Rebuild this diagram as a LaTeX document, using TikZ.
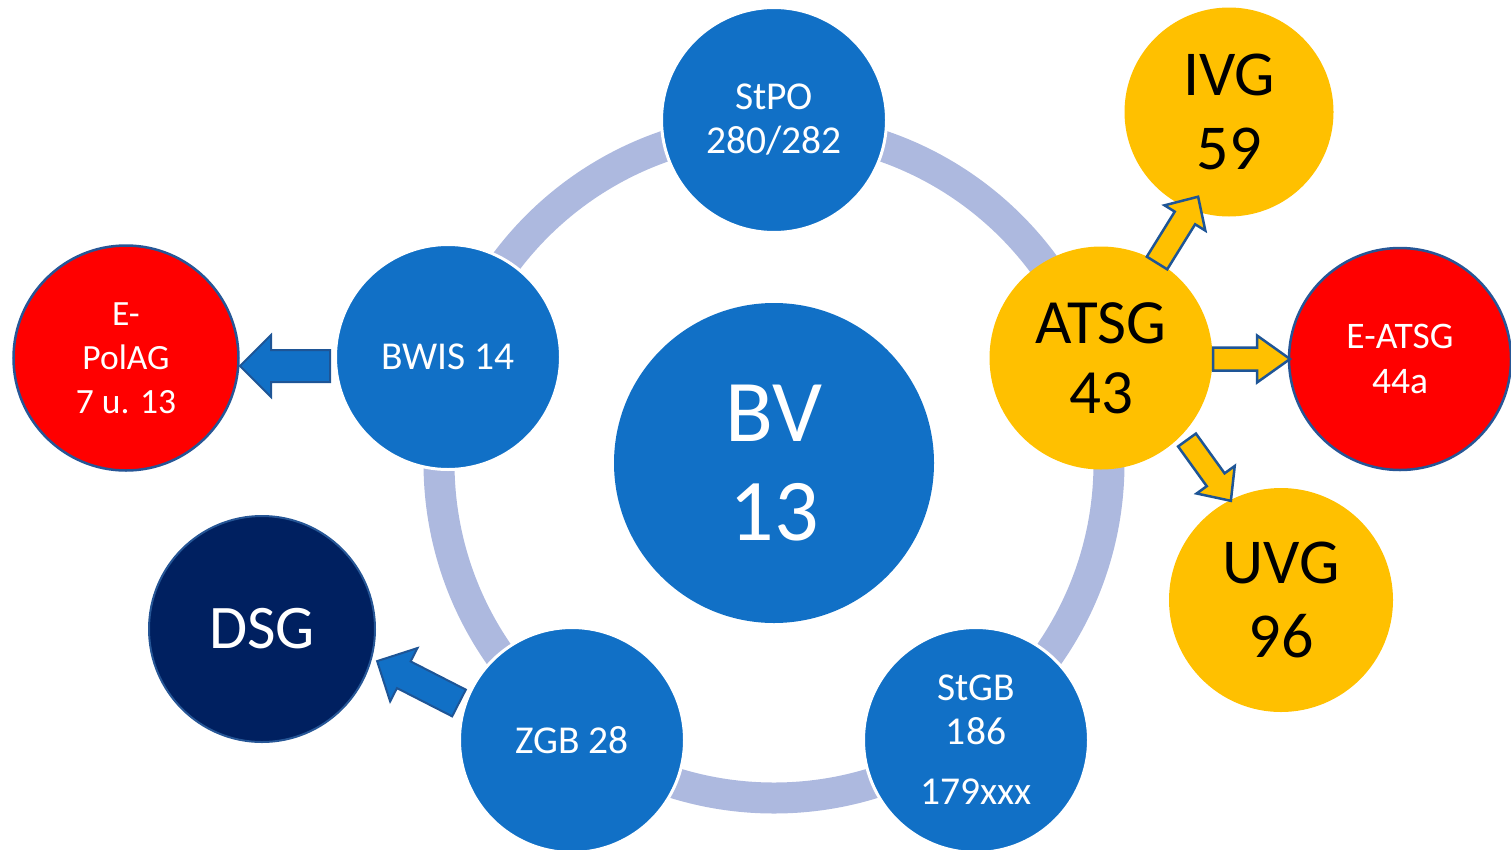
\documentclass[tikz,border=0pt]{standalone}
\usepackage{fontspec}
\setmainfont{Carlito}
\definecolor{cblue}{RGB}{17,112,198}
\definecolor{cring}{RGB}{173,185,223}
\definecolor{cyel}{RGB}{255,192,0}
\definecolor{cred}{RGB}{255,0,0}
\definecolor{cnavy}{RGB}{0,32,96}
\definecolor{cedge}{RGB}{38,86,150}
\definecolor{carrowedge}{RGB}{30,85,150}
\newcommand{\barrow}[8]{\begin{scope}[shift={(#2,#3)},rotate=#4]\draw[#1] (0,-#6)--({#5-#8},-#6)--({#5-#8},-#7)--(#5,0)--({#5-#8},#7)--({#5-#8},#6)--(0,#6)--cycle;\end{scope}}
\tikzset{
  disc/.style={circle, inner sep=0pt, align=center},
  bluedisc/.style={disc, fill=cblue, draw=white, line width=3pt, text=white, minimum size=225pt},
  yeldisc/.style={disc, fill=cyel, text=black},
  reddisc/.style={disc, fill=cred, draw=cedge, line width=2.5pt, text=white},
  navydisc/.style={disc, fill=cnavy, draw=cedge, line width=2pt, text=white},
  bluearrow/.style={fill=cblue, draw=carrowedge, line width=2pt, line join=miter},
  yelarrow/.style={fill=cyel, draw=carrowedge, line width=2.5pt, line join=miter},
  midtext/.style={font=\fontsize{39.5}{44}\selectfont},
  bigtext/.style={font=\fontsize{64}{74}\selectfont},
}
\begin{document}
\begin{tikzpicture}[x=1pt,y=-1pt]
\useasboundingbox (0,0) rectangle (1511,849);
% ring
\coordinate (ringc) at (774,463);
\draw[cring, line width=31pt] (ringc) circle (335);
% central
\node[disc, fill=cblue, text=white, minimum size=320pt, font=\fontsize{88}{99}\selectfont] (bv) at (774,463) {BV\\13};
% ring discs
\node[bluedisc, midtext] (stpo) at (774,120) {StPO\\280/282};
\node[bluedisc, midtext] (bwis) at (448,357) {BWIS 14};
\node[bluedisc, midtext] (zgb) at (572,740) {ZGB 28};
\node[bluedisc, midtext] (stgb) at (976,740) {StGB\\186\\[16pt]179xxx};
\node[yeldisc, minimum size=223pt, font=\fontsize{63}{70}\selectfont] (atsg) at (1101,358) {ATSG\\43};
% outer discs
\node[reddisc, minimum size=225pt, font=\fontsize{35.5}{44}\selectfont] (epolag) at (126,358) {E-\\PolAG\\7 u. 13};
\node[navydisc, minimum size=226pt, font=\fontsize{62}{70}\selectfont] (dsg) at (262,629) {DSG};
\node[yeldisc, minimum size=209pt, bigtext] (ivg) at (1229,112) {IVG\\59};
\node[reddisc, minimum size=222pt, font=\fontsize{37.5}{45}\selectfont] (eatsg) at (1400,359) {E-ATSG\\44a};
\node[yeldisc, minimum size=224pt, bigtext] (uvg) at (1281,600) {UVG\\96};
% block arrows
\barrow{bluearrow}{330}{366}{180}{90}{16}{31}{31}
\barrow{bluearrow}{459}{703}{152.9}{92}{15}{30}{30}
\barrow{yelarrow}{1157}{263}{58.2}{78}{12}{24}{25}
\barrow{yelarrow}{1213}{359}{0}{77}{11.5}{23.5}{33}
\barrow{yelarrow}{1187}{440}{-54.2}{75}{11}{23.5}{26}
\end{tikzpicture}
\end{document}
